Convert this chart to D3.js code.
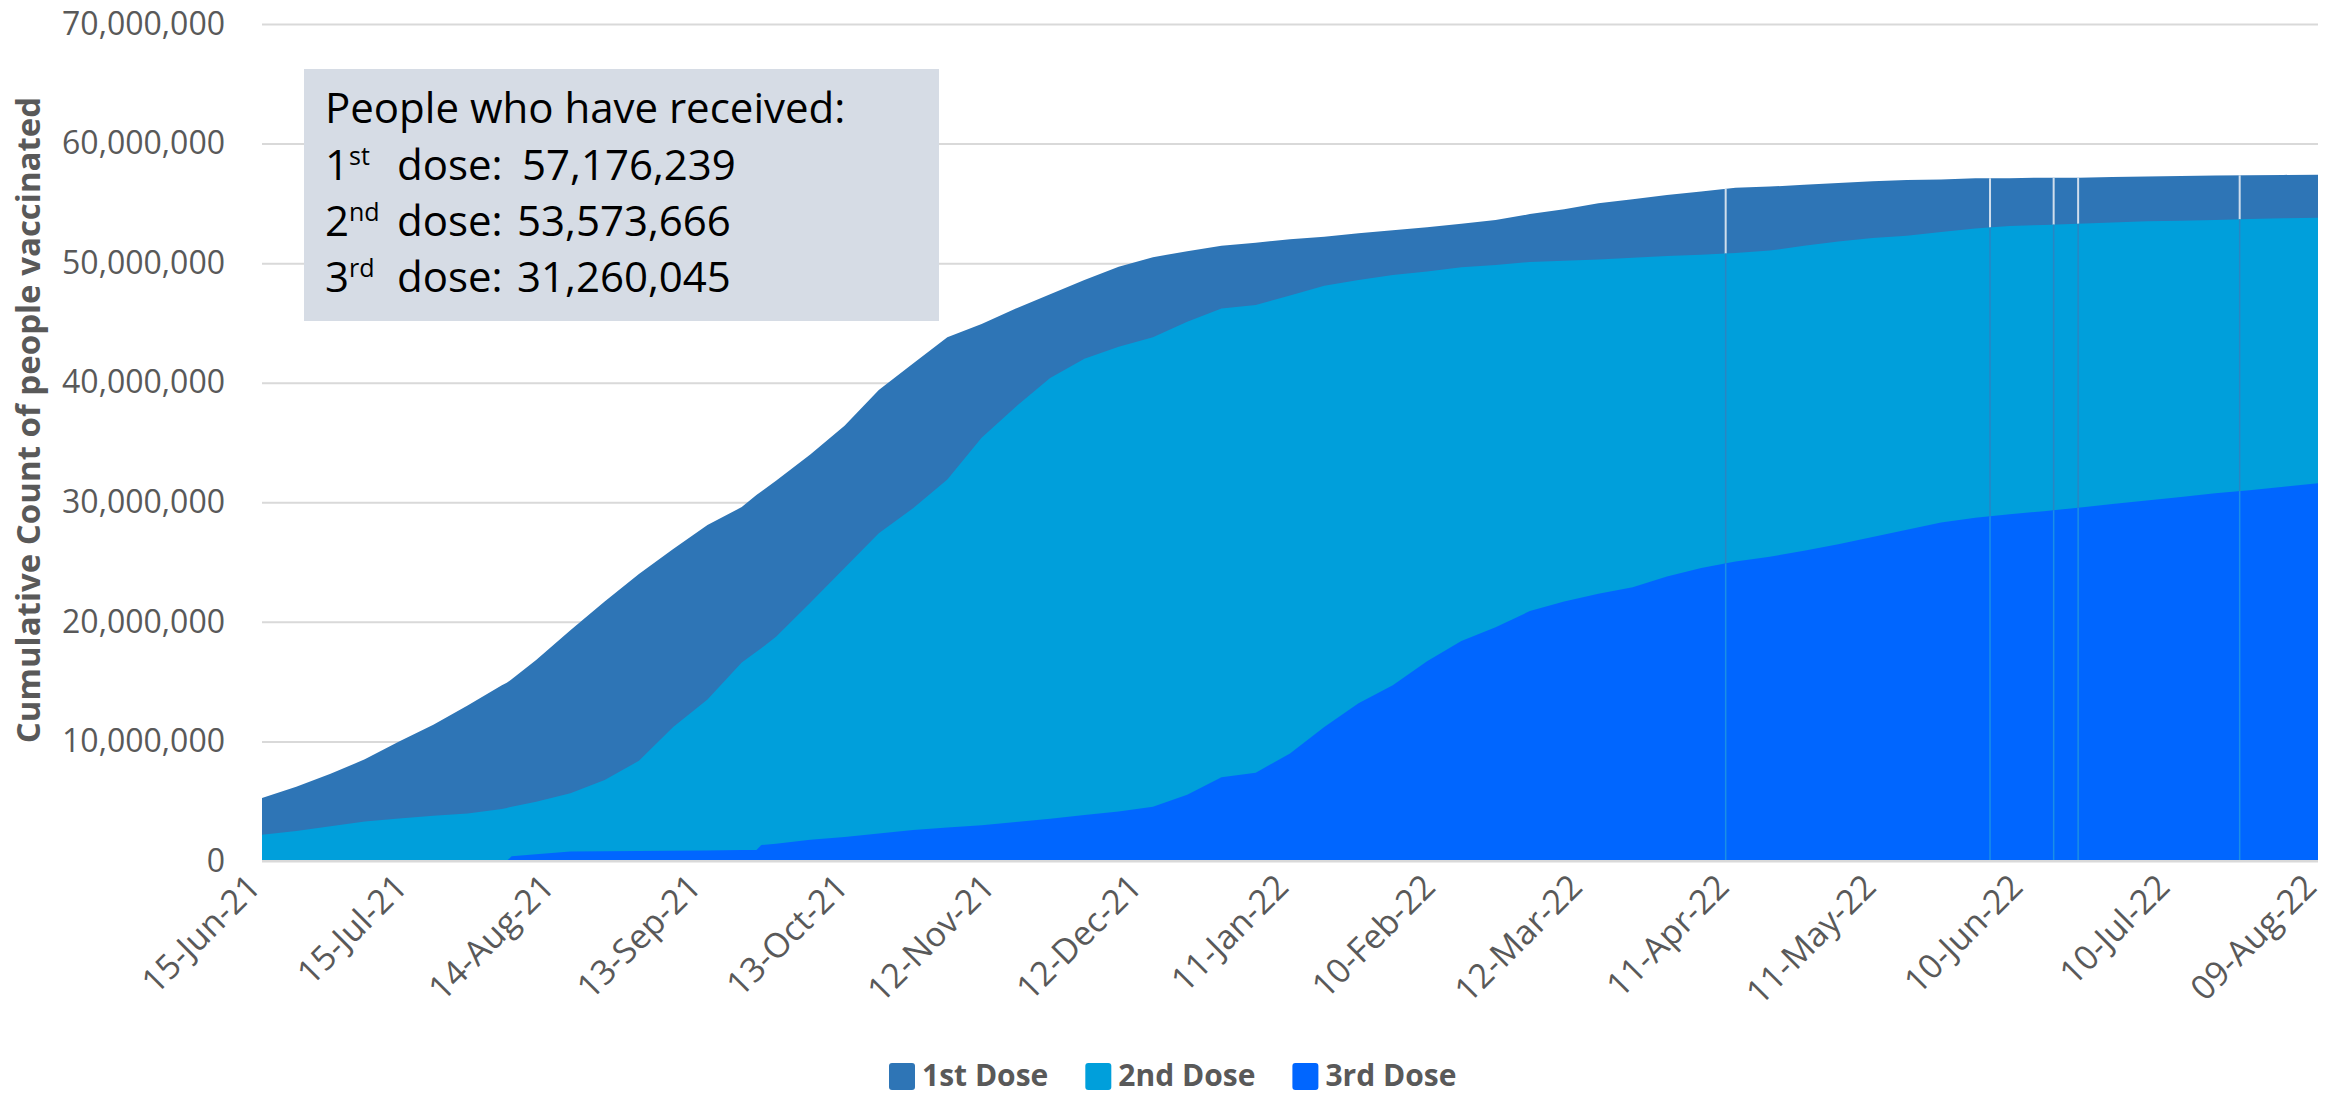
<!DOCTYPE html>
<html>
<head>
<meta charset="utf-8">
<script src="https://cdn.jsdelivr.net/npm/d3@7"></script>
<style>
  body { margin: 0; background: #fff; overflow: hidden; }
  svg { display: block; }
  text { font-family: 'Open Sans', 'Liberation Sans', sans-serif; }
</style>
</head>
<body>
<svg id="chart"></svg>
<script>
// dates of the read points (about one a week)
const dates = [
  '2021-06-15', '2021-06-22', '2021-06-29', '2021-07-06', '2021-07-13', '2021-07-20', '2021-07-27', '2021-08-03', '2021-08-04', '2021-08-05',
  '2021-08-10', '2021-08-17', '2021-08-24', '2021-08-31', '2021-09-07', '2021-09-14', '2021-09-21',
  '2021-09-24', '2021-09-25', '2021-09-28',
  '2021-10-05', '2021-10-12', '2021-10-19', '2021-10-26', '2021-11-02', '2021-11-09', '2021-11-16', '2021-11-23', '2021-11-30', '2021-12-07',
  '2021-12-14', '2021-12-21', '2021-12-28', '2022-01-04', '2022-01-11', '2022-01-18', '2022-01-25', '2022-02-01', '2022-02-08', '2022-02-15',
  '2022-02-22', '2022-03-01', '2022-03-08', '2022-03-15', '2022-03-22', '2022-03-29', '2022-04-05', '2022-04-12', '2022-04-19', '2022-04-26',
  '2022-05-03', '2022-05-10', '2022-05-17', '2022-05-24', '2022-05-31', '2022-06-07', '2022-06-14', '2022-06-21', '2022-06-28', '2022-07-05',
  '2022-07-12', '2022-07-19', '2022-07-26', '2022-08-02', '2022-08-09'
];

// cumulative people vaccinated, millions
const dose1 = [
  5.27, 6.2, 7.3, 8.5, 10.0, 11.4, 13.0, 14.7, 14.9, 15.2,
  16.8, 19.3, 21.7, 24.0, 26.1, 28.1, 29.6,
  30.6, 30.9, 31.8,
  34.0, 36.4, 39.4, 41.6, 43.8, 44.9, 46.2, 47.4, 48.6, 49.7,
  50.5, 51.0, 51.45, 51.7, 52.0, 52.2, 52.5, 52.75, 53.0, 53.3,
  53.6, 54.1, 54.5, 55.0, 55.35, 55.7, 56.0, 56.3, 56.4, 56.55,
  56.7, 56.85, 56.95, 57.0, 57.1, 57.1, 57.15, 57.15, 57.2, 57.25,
  57.28, 57.32, 57.36, 57.38, 57.4
];
const dose2 = [
  2.2, 2.5, 2.9, 3.3, 3.55, 3.78, 3.98, 4.34, 4.44, 4.54,
  4.96, 5.67, 6.78, 8.38, 11.2, 13.5, 16.6,
  17.5, 17.8, 18.75,
  21.6, 24.5, 27.4, 29.5, 31.9, 35.4, 38.0, 40.4, 42.0, 43.0,
  43.8, 45.1, 46.2, 46.5, 47.3, 48.1, 48.6, 49.0, 49.3, 49.65,
  49.85, 50.1, 50.2, 50.3, 50.45, 50.6, 50.7, 50.85, 51.05, 51.45,
  51.8, 52.1, 52.3, 52.6, 52.9, 53.1, 53.2, 53.3, 53.4, 53.5,
  53.55, 53.6, 53.7, 53.75, 53.8
];
const dose3 = [
  0, 0, 0, 0, 0, 0, 0, 0, 0, 0.4,
  0.57, 0.79, 0.81, 0.83, 0.86, 0.88, 0.91,
  0.92, 1.34, 1.45,
  1.77, 2.0, 2.3, 2.6, 2.8, 3.0, 3.27, 3.53, 3.84, 4.15,
  4.54, 5.55, 7.0, 7.38, 9.0, 11.2, 13.2, 14.7, 16.7, 18.4,
  19.55, 20.9, 21.7, 22.35, 22.9, 23.8, 24.5, 25.05, 25.45, 25.95,
  26.5, 27.1, 27.7, 28.3, 28.7, 29.0, 29.25, 29.55, 29.85, 30.15,
  30.45, 30.75, 31.0, 31.3, 31.6
];

// days with no data (thin breaks in the areas)
const gapDates = ['2022-04-10', '2022-06-03', '2022-06-16', '2022-06-21', '2022-07-24'];

const tickLabels = [
  '15-Jun-21', '15-Jul-21', '14-Aug-21', '13-Sep-21', '13-Oct-21', '12-Nov-21', '12-Dec-21', '11-Jan-22',
  '10-Feb-22', '12-Mar-22', '11-Apr-22', '11-May-22', '10-Jun-22', '10-Jul-22', '09-Aug-22'
];
const yTicks = [0, 10, 20, 30, 40, 50, 60, 70];

const seriesNames = ['1st Dose', '2nd Dose', '3rd Dose'];
const colors = ['#2e75b6', '#009fdb', '#0066ff'];
const gapColors = ['#d0deec', '#2a85c2', '#1a8fe6'];

const boxTitle = 'People who have received:';
const ordinals = [['1', 'st'], ['2', 'nd'], ['3', 'rd']];
const totals = ['57,176,239', '53,573,666', '31,260,045'];

// set the dimensions of the chart
const width = 2343, height = 1097;
const plot = { left: 262, right: 2318, top: 24, bottom: 861 };

const svg = d3.select('#chart').attr('width', width).attr('height', height);

const parseDay = d3.timeParse('%Y-%m-%d');
const parseTick = d3.timeParse('%d-%b-%y');

const x = d3.scaleTime()
  .domain([parseDay(dates[0]), parseDay(dates[dates.length - 1])])
  .range([plot.left, plot.right]);
const y = d3.scaleLinear().domain([0, 70]).range([plot.bottom, plot.top]);

// gridlines + y labels
const yAxis = svg.append('g')
  .attr('transform', 'translate(' + plot.left + ',0)')
  .call(d3.axisLeft(y)
    .tickValues(yTicks)
    .tickSize(-(plot.right - plot.left))
    .tickPadding(37)
    .tickFormat(d => d3.format(',')(d * 1e6)));
yAxis.select('.domain').remove();
yAxis.selectAll('line').attr('stroke', '#d9d9d9').attr('stroke-width', 2);
yAxis.selectAll('text')
  .attr('fill', '#595959')
  .style('font-size', '32px');

// areas, drawn from the biggest to the smallest
const series = [dose1, dose2, dose3].map((vals, i) => ({
  name: seriesNames[i],
  color: colors[i],
  values: vals.map((v, j) => ({ date: parseDay(dates[j]), v: v }))
}));

const area = d3.area()
  .x(d => x(d.date))
  .y0(y(0))
  .y1(d => y(d.v));

const defs = svg.append('defs');

series.forEach((s, i) => {
  svg.append('path')
    .datum(s.values)
    .attr('d', area)
    .attr('fill', s.color);

  defs.append('clipPath')
    .attr('id', 'clip' + i)
    .append('path')
    .datum(s.values)
    .attr('d', area);

  // thin breaks where a day is missing
  svg.append('g')
    .attr('clip-path', 'url(#clip' + i + ')')
    .selectAll('line')
    .data(gapDates)
    .enter()
    .append('line')
    .attr('x1', d => x(parseDay(d)))
    .attr('x2', d => x(parseDay(d)))
    .attr('y1', y(0))
    .attr('y2', y(70))
    .attr('stroke', gapColors[i])
    .attr('stroke-width', i === 0 ? 2 : 1.5);
});

// base line
svg.append('line')
  .attr('x1', plot.left).attr('x2', plot.right)
  .attr('y1', y(0)).attr('y2', y(0))
  .attr('stroke', '#d9d9d9')
  .attr('stroke-width', 2);

// x axis labels
const xAxis = svg.append('g')
  .attr('transform', 'translate(0,' + plot.bottom + ')')
  .call(d3.axisBottom(x)
    .tickValues(tickLabels.map(t => parseTick(t)))
    .tickSize(0)
    .tickFormat((d, i) => tickLabels[i]));
xAxis.select('.domain').remove();
xAxis.selectAll('text')
  .attr('x', 0)
  .attr('y', 0)
  .attr('dy', null)
  .attr('text-anchor', 'end')
  .attr('transform', 'translate(0,28) rotate(-45)')
  .attr('fill', '#595959')
  .style('font-size', '34px');

// y axis title
svg.append('text')
  .attr('transform', 'translate(27,420) rotate(-90)')
  .attr('text-anchor', 'middle')
  .attr('dominant-baseline', 'central')
  .attr('fill', '#595959')
  .style('font-size', '33px')
  .style('font-weight', 'bold')
  .text('Cumulative Count of people vaccinated');

// summary box
const box = svg.append('g');
box.append('rect')
  .attr('x', 304).attr('y', 69)
  .attr('width', 635).attr('height', 252)
  .attr('fill', '#d6dce5');
box.append('text')
  .attr('x', 325).attr('y', 123)
  .attr('fill', '#000')
  .style('font-size', '42px')
  .text(boxTitle);
ordinals.forEach((o, i) => {
  const t = box.append('text')
    .attr('y', 180 + i * 56)
    .attr('fill', '#000')
    .style('font-size', '42px');
  t.append('tspan').attr('x', 325).text(o[0]);
  t.append('tspan').attr('dy', -15).style('font-size', '25px').text(o[1]);
  t.append('tspan').attr('x', 397).attr('dy', 15).text('dose:');
  t.append('tspan').attr('x', i === 0 ? 522 : 517).text(totals[i]);
});

// legend
const legend = svg.append('g');
let lx = 889;
series.forEach(s => {
  legend.append('rect')
    .attr('x', lx).attr('y', 1063)
    .attr('width', 26).attr('height', 27)
    .attr('rx', 3)
    .attr('fill', s.color);
  const t = legend.append('text')
    .attr('x', lx + 33).attr('y', 1086)
    .attr('fill', '#595959')
    .style('font-size', '30px')
    .style('font-weight', 'bold')
    .text(s.name);
  lx += 33 + t.node().getComputedTextLength() + 37;
});
</script>
</body>
</html>
